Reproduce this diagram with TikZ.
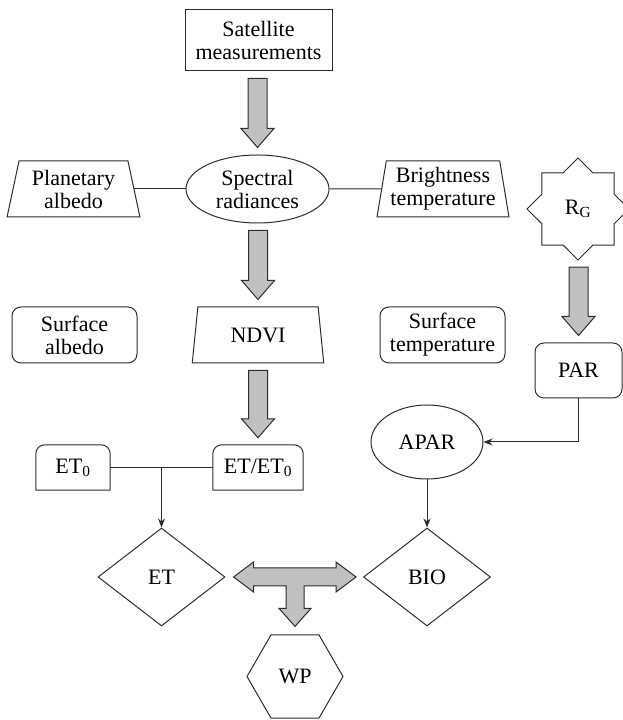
\documentclass[tikz,border=0pt]{standalone}
\usepackage{fontspec}
\setmainfont{Liberation Serif}
\usetikzlibrary{shapes.geometric,arrows.meta,calc}

\definecolor{linegray}{RGB}{45,45,45}
\definecolor{arrowgray}{RGB}{192,192,192}

\tikzset{
  every node/.style={font=\fontsize{22}{23}\selectfont, align=center, inner sep=1pt},
  sqbox/.style={draw=linegray, line width=1pt, rectangle, minimum width=147pt, minimum height=61pt},
  rbox/.style={draw=linegray, line width=1pt, rectangle, rounded corners=9pt, minimum width=125pt, minimum height=56pt},
  trap/.style={draw=linegray, line width=1pt, trapezium, trapezium angle=79, trapezium stretches=true,
    minimum width=132pt, minimum height=56pt},
  oval/.style={draw=linegray, line width=1pt, ellipse, inner sep=0pt},
  dia/.style={draw=linegray, line width=1pt, diamond, aspect=1.3, minimum width=127pt, minimum height=98pt, inner sep=0pt},
  fatarrow/.style={draw=linegray, line width=1pt, fill=arrowgray, line join=miter},
  thin/.style={draw=linegray, line width=1pt}
}

% fat gray arrow, straight down from #1 to #2
\newcommand{\fatarrow}[2]{%
  \filldraw[fatarrow] let \p1=($(#1.south)+(0,-7)$), \p2=($(#2.north)+(0,7)$) in
    (\x2-9.5pt,\y1) -- (\x2-9.5pt,\y2+19pt) -- (\x2-16.5pt,\y2+19pt) -- (\x2,\y2)
    -- (\x2+16.5pt,\y2+19pt) -- (\x2+9.5pt,\y2+19pt) -- (\x2+9.5pt,\y1) -- cycle;}

% box with round top corners only
\newcommand{\topround}[1]{%
  \draw[thin] (#1.south west) -- ([yshift=-9pt]#1.north west)
    arc[start angle=180,end angle=90,radius=9pt] -- ([xshift=-9pt]#1.north east)
    arc[start angle=90,end angle=0,radius=9pt] -- (#1.south east) -- cycle;}

\begin{document}
\begin{tikzpicture}[x=1pt,y=1pt,>={Stealth[length=9pt,width=7pt]}]
  % helper grid: comment for final drawing
  % \draw[help lines,step=20] (0,0) grid (623,720);
  \useasboundingbox (0,0) rectangle (623,720);

  % top
  \node[sqbox] (sat) at (258.5,679.5) {Satellite\\measurements};

  % radiances row
  \node[oval,minimum width=143pt,minimum height=68pt] (spec) at (257.5,531) {Spectral\\radiances};
  \node[trap,trapezium angle=77,minimum width=133pt] (planet) at (73.5,531) {Planetary\\albedo};
  \node[trap] (bright) at (443,531) {Brightness\\temperature};
  \node[circle,minimum size=102pt,inner sep=0pt] (rg) at (578,511) {R\textsubscript{G}};
  % eight-point star round R_G
  \draw[thin,line join=miter] ($(rg)+(90:51)$)
    \foreach \a in {0,45,...,315} { -- ($(rg)+({\a+112.5}:39)$) -- ($(rg)+({\a+135}:51)$) } -- cycle;

  % surface row
  \node[rbox] (salb) at (74.5,385) {Surface\\albedo};
  \node[trap,trapezium angle=81] (ndvi) at (258,385) {NDVI};
  \node[rbox] (stemp) at (442.5,385) {Surface\\temperature};
  \node[rbox,minimum width=87pt,minimum height=55pt] (par) at (578.5,349.5) {PAR};

  % ET row
  \node[oval,minimum width=112pt,minimum height=74pt] (apar) at (427,278) {APAR};
  \node[rectangle,minimum width=74pt,minimum height=45pt] (et0) at (73,252.5) {ET\textsubscript{0}};
  \node[rectangle,minimum width=90pt,minimum height=45pt] (etr) at (258,252.5) {ET/ET\textsubscript{0}};
  \topround{et0}
  \topround{etr}

  % bottom
  \node[dia] (et) at (161.5,143) {ET};
  \node[dia] (bio) at (427,143) {BIO};
  \node[draw=linegray,line width=1pt,regular polygon,regular polygon sides=6,
        minimum size=96pt,inner sep=0pt] (wp) at (295,43.5) {WP};

  % thin connectors
  \draw[thin] (planet) -- (spec);
  \draw[thin] (spec) -- (bright);
  \draw[thin] (et0) -- (etr);
  \draw[thin,->] (et.north |- et0.east) -- (et.north);
  \draw[thin,->] (par.south) |- (apar.east);
  \draw[thin,->] (apar.south) -- (bio.north);

  % fat arrows
  \fatarrow{sat}{spec}
  \fatarrow{spec}{ndvi}
  \fatarrow{ndvi}{etr}
  \fatarrow{rg}{par}

  % ET <-> BIO, down to WP
  \filldraw[fatarrow] let \p1=($(et.east)+(8,0)$), \p2=($(bio.west)+(-7,0)$), \p3=($(wp.north)+(0,8)$) in
    (\p1) -- (\x1+20pt,\y1+15pt) -- (\x1+20pt,\y1+9pt) -- (\x2-20pt,\y1+9pt) -- (\x2-20pt,\y1+15pt)
    -- (\p2) -- (\x2-20pt,\y1-15pt) -- (\x2-20pt,\y1-9pt) -- (\x3+9pt,\y1-9pt) -- (\x3+9pt,\y3+18pt)
    -- (\x3+16pt,\y3+18pt) -- (\p3) -- (\x3-16pt,\y3+18pt) -- (\x3-9pt,\y3+18pt) -- (\x3-9pt,\y1-9pt)
    -- (\x1+20pt,\y1-9pt) -- (\x1+20pt,\y1-15pt) -- cycle;

\end{tikzpicture}
\end{document}
